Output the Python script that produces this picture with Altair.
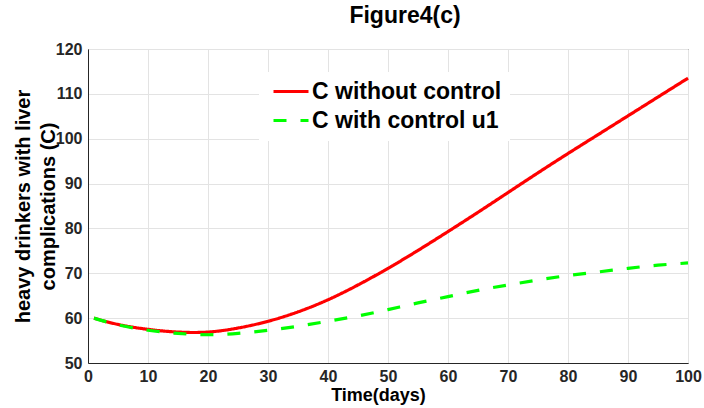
import altair as alt
import pandas as pd

days = [1, 5, 10, 15, 20, 25, 30, 35, 40, 45, 50, 55, 60, 65, 70, 75, 80, 85, 90, 95, 100]
c_without = [60.0, 58.6, 57.5, 56.9, 56.9, 57.8, 59.3, 61.4, 64.1, 67.4, 71.1, 75.1, 79.3,
             83.6, 88.0, 92.4, 96.7, 100.9, 105.1, 109.3, 113.5]
c_with_u1 = [60.0, 58.5, 57.3, 56.6, 56.3, 56.6, 57.3, 58.2, 59.3, 60.5, 61.9, 63.4, 64.8,
             66.2, 67.4, 68.5, 69.5, 70.3, 71.1, 71.8, 72.3]
series_names = ["C without control", "C with control u1"]
x_ticks = list(range(0, 101, 10))
y_ticks = list(range(50, 121, 10))

rows = []
for d, v in zip(days, c_without):
    rows.append({"t": d, "C": v, "series": series_names[0], "order": 0})
for d, v in zip(days, c_with_u1):
    rows.append({"t": d, "C": v, "series": series_names[1], "order": 1})
df = pd.DataFrame(rows)

FONT = "Liberation Sans"

chart = alt.Chart(df).mark_line(strokeWidth=3.2, interpolate="natural").encode(
    x=alt.X("t:Q", scale=alt.Scale(domain=[0, 100], nice=False),
            axis=alt.Axis(values=x_ticks, title="Time(days)", format="d",
                          labelFlush=False, titlePadding=2, titleX=290, labelPadding=5)),
    y=alt.Y("C:Q", scale=alt.Scale(domain=[50, 120], nice=False),
            axis=alt.Axis(values=y_ticks,
                          title=["heavy drinkers with liver", "complications (C)"],
                          format="d", titlePadding=-3, titleFontSize=20, titleLineHeight=25,
                          labelPadding=6)),
    color=alt.Color("series:N", scale=alt.Scale(domain=series_names, range=["#ff0000", "#00ff00"]),
                    legend=alt.Legend(title=None)),
    strokeDash=alt.StrokeDash("series:N", scale=alt.Scale(domain=series_names, range=[[1, 0], [13, 14]]),
                              legend=alt.Legend(title=None)),
    order=alt.Order("order:Q"),
    detail="series:N",
).properties(
    width=600,
    height=314,
    title=alt.Title("Figure4(c)", font=FONT, fontSize=23, fontWeight="bold", color="#000000",
                    anchor="middle", offset=13, dx=17),
    autosize=alt.AutoSizeParams(type="none"),
    padding={"left": 88, "top": 49, "right": 16, "bottom": 45},
).configure_view(
    stroke="#262626", strokeWidth=1
).configure_axis(
    labelFont=FONT, labelFontSize=16, labelFontWeight="bold", labelColor="#262626",
    titleFont=FONT, titleFontSize=18, titleFontWeight="bold", titleColor="#000000",
    domainColor="#262626", tickColor="#262626", tickSize=0,
    gridColor="#e3e3e3", gridWidth=1,
).configure_legend(
    orient="none", legendX=171, legendY=23,
    labelFont=FONT, labelFontSize=23, labelFontWeight="bold", labelColor="#000000",
    symbolType="M-1,0H6", symbolSize=100, symbolStrokeWidth=3.2, labelOffset=22,
    rowPadding=5, fillColor="#ffffff", padding=8, labelLimit=400,
)

chart.save("out.html", embed_options={"renderer": "svg", "actions": False})
